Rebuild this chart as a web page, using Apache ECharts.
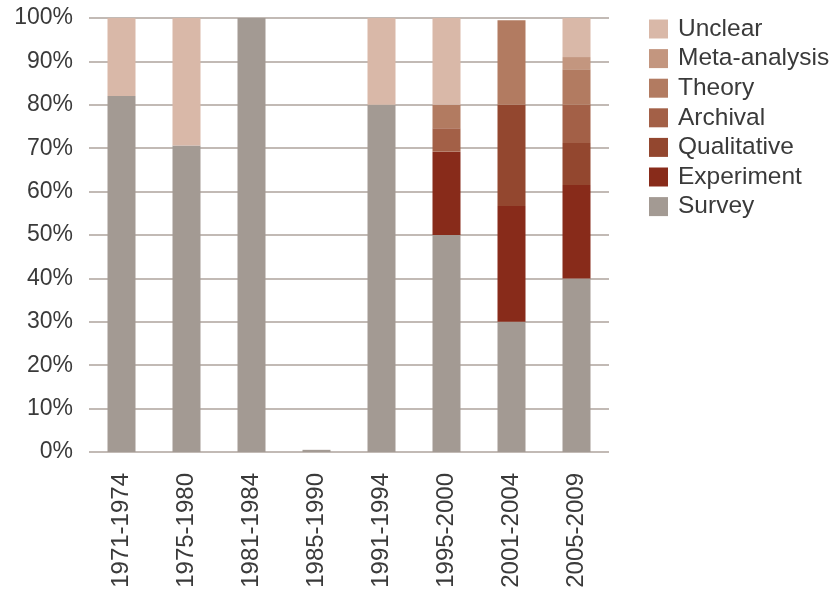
<!DOCTYPE html>
<html>
<head>
<meta charset="utf-8">
<script src="https://cdn.jsdelivr.net/npm/echarts@6/dist/echarts.min.js"></script>
<style>
  html, body { margin: 0; padding: 0; background: #fff; }
  #chart { width: 834px; height: 596px; }
</style>
</head>
<body>
<div id="chart"></div>
<script>
// 时间段
const periods = ['1971-1974', '1975-1980', '1981-1984', '1985-1990', '1991-1994', '1995-2000', '2001-2004', '2005-2009']
// 各研究方法所占百分比
const survey = [82, 70.6, 100, 0.5, 80, 50, 30, 40]
const experiment = [0, 0, 0, 0, 0, 19.2, 26.7, 21.5]
const qualitative = [0, 0, 0, 0, 0, 0, 23.3, 9.7]
const archival = [0, 0, 0, 0, 0, 5.4, 0, 8.8]
const theory = [0, 0, 0, 0, 0, 5.4, 19.5, 8.2]
const metaAnalysis = [0, 0, 0, 0, 0, 0, 0, 2.8]
const unclear = [18, 29.4, 0, 0, 20, 20, 0, 9]
const yTicks = [0, 10, 20, 30, 40, 50, 60, 70, 80, 90, 100]

const font = 'Liberation Sans'
const seriesDefs = [
  { name: 'Survey', data: survey, color: '#a39a93' },
  { name: 'Experiment', data: experiment, color: '#882b1a' },
  { name: 'Qualitative', data: qualitative, color: '#93472f' },
  { name: 'Archival', data: archival, color: '#a36047' },
  { name: 'Theory', data: theory, color: '#b27b61' },
  { name: 'Meta-analysis', data: metaAnalysis, color: '#c3967f' },
  { name: 'Unclear', data: unclear, color: '#d9b8a8' }
]

let chart = echarts.init(document.getElementById('chart'))
chart.setOption({
  animation: false,
  grid: { left: 89, right: 225, top: 18, bottom: 144, containLabel: false },
  legend: {
    orient: 'vertical',
    left: 644,
    top: 11.5,
    itemWidth: 19,
    itemHeight: 19,
    itemGap: 4.6,
    icon: 'rect',
    data: seriesDefs.map(s => s.name).reverse(),
    textStyle: { fontFamily: font, fontSize: 24.5, color: '#3a3a3a', padding: [0, 0, 0, 5] }
  },
  xAxis: {
    type: 'category',
    data: periods,
    axisLine: { show: false },
    axisTick: { show: false },
    axisLabel: {
      rotate: 90,
      margin: 21,
      fontFamily: font,
      fontSize: 24,
      color: '#3a3a3a'
    }
  },
  yAxis: {
    type: 'value',
    min: yTicks[0],
    max: yTicks[yTicks.length - 1],
    interval: 10,
    axisLine: { show: false },
    axisTick: { show: false },
    splitLine: { lineStyle: { color: '#c2bab5', width: 2 } },
    axisLabel: {
      formatter: '{value}%',
      margin: 16,
      fontFamily: font,
      fontSize: 23,
      color: '#3a3a3a'
    }
  },
  series: seriesDefs.map(s => ({
    name: s.name,
    type: 'bar',
    stack: 'total',
    barWidth: 28,
    data: s.data,
    itemStyle: { color: s.color }
  }))
})
</script>
</body>
</html>
